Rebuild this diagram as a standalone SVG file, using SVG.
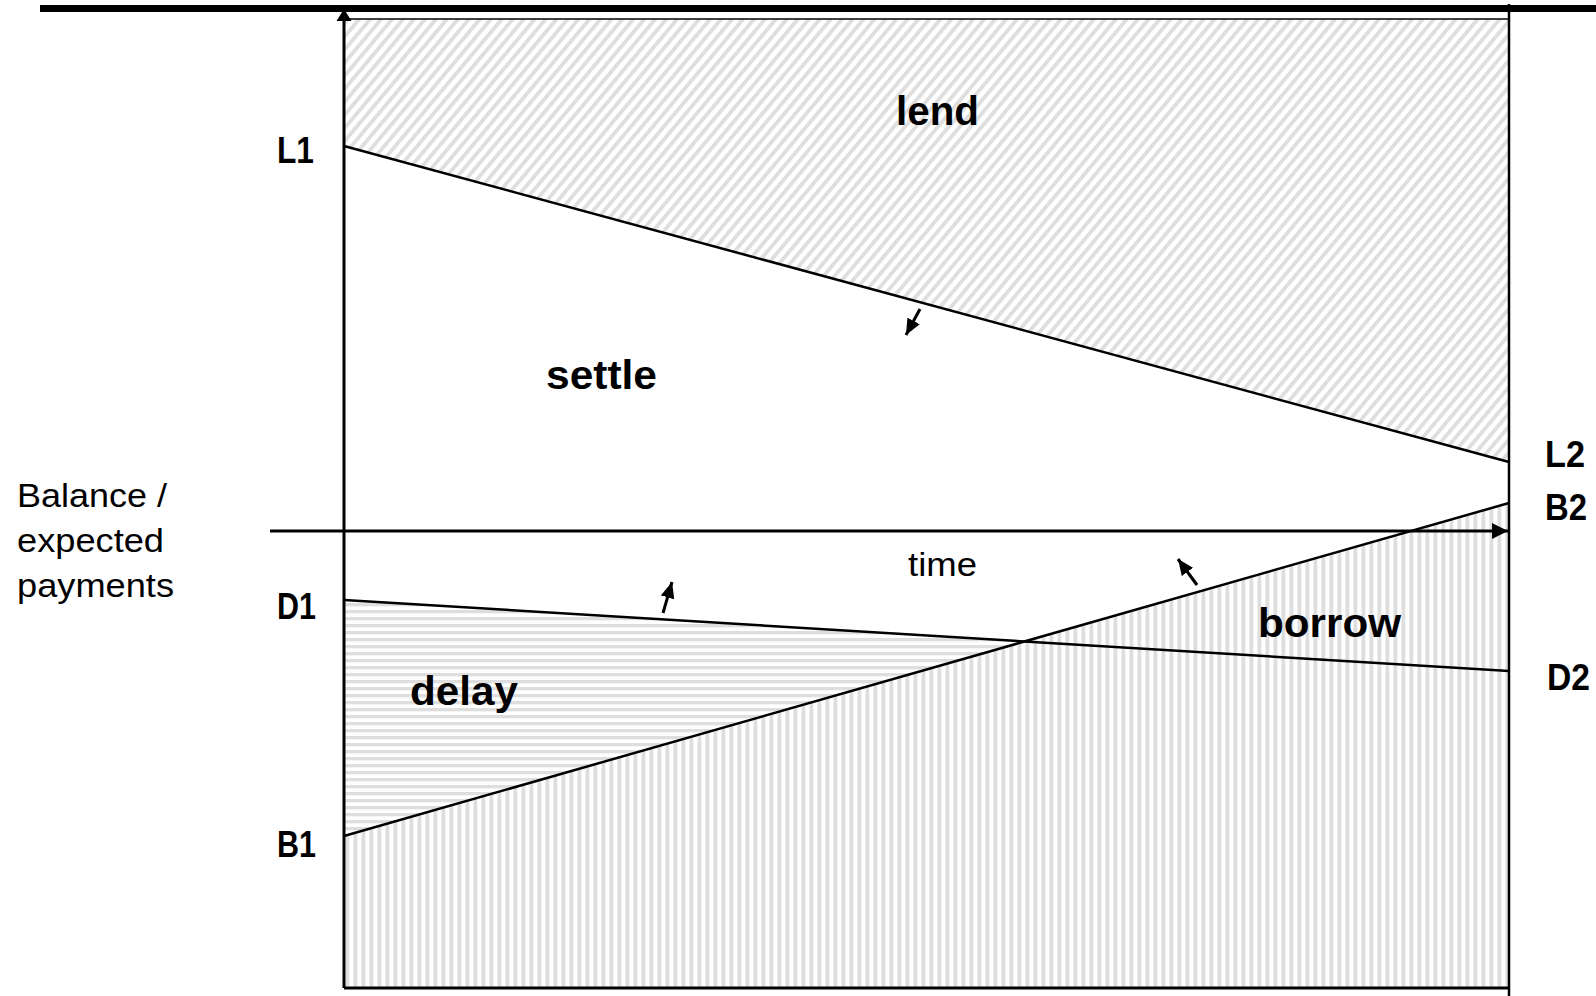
<svg xmlns="http://www.w3.org/2000/svg" width="1596" height="996" viewBox="0 0 1596 996">
<style>
.b{font-family:"Liberation Sans",Arial,sans-serif;font-weight:bold;fill:#000}
.r{font-family:"Liberation Sans",Arial,sans-serif;fill:#000}
.ln{stroke:#000;fill:none}
</style>
<defs>
<pattern id="diag" width="8.4" height="8.4" patternUnits="userSpaceOnUse" patternTransform="rotate(40)">
<rect width="8.4" height="8.4" fill="#fff"/><rect x="0" y="0" width="3.8" height="8.4" fill="#dedede"/>
</pattern>
<pattern id="vert" width="8" height="8" patternUnits="userSpaceOnUse" x="344">
<rect width="8" height="8" fill="#fff"/><rect x="1.5" y="0" width="3.8" height="8" fill="#dedede"/>
</pattern>
<pattern id="horz" width="8" height="7" patternUnits="userSpaceOnUse">
<rect width="8" height="7" fill="#fff"/><rect x="0" y="1" width="8" height="3.3" fill="#dedede"/>
</pattern>
<marker id="ah" markerWidth="16" markerHeight="14" refX="16" refY="7" orient="auto" markerUnits="userSpaceOnUse">
<path d="M0,0 L16,7 L0,14 Z" fill="#000"/>
</marker>
<marker id="ahBig" markerWidth="16" markerHeight="16" refX="16" refY="8" orient="auto" markerUnits="userSpaceOnUse">
<path d="M0,0 L16,8 L0,16 Z" fill="#000"/>
</marker>
</defs>
<rect width="1596" height="996" fill="#fff"/>
<g id="region-lend"><polygon points="344,19 1509,19 1509,462 344,146" fill="url(#diag)"/></g>
<g id="region-borrow"><polygon points="344,836 1509,503 1509,988 344,988" fill="url(#vert)"/></g>
<g id="region-delay"><polygon points="344,600 1028,640.5 344,836" fill="url(#horz)"/></g>
<g id="connectors">
<line class="ln" x1="40" y1="8.5" x2="1596" y2="8.5" stroke-width="7"/>
<line class="ln" x1="344" y1="19" x2="1509" y2="19" stroke="#333" stroke-width="1.5"/>
<line class="ln" x1="344" y1="988" x2="344" y2="20" stroke-width="3"/>
<polygon points="344,9 336.5,21 351.5,21" fill="#000"/>
<line class="ln" x1="1509" y1="4" x2="1509" y2="996" stroke-width="2.5"/>
<line class="ln" x1="344" y1="988" x2="1509" y2="988" stroke="#111" stroke-width="3"/>
<line class="ln" x1="270" y1="531" x2="1508" y2="531" stroke-width="3" marker-end="url(#ahBig)"/>
<line id="line-L" class="ln" x1="344" y1="146" x2="1509" y2="462" stroke-width="2.5"/>
<line id="line-B" class="ln" x1="344" y1="836" x2="1509" y2="503" stroke-width="2.5"/>
<line id="line-D" class="ln" x1="344" y1="600" x2="1509" y2="671" stroke-width="2.5"/>
<line class="ln" x1="920" y1="309" x2="906" y2="335" stroke-width="3" marker-end="url(#ah)"/>
<line class="ln" x1="663" y1="613" x2="672" y2="582" stroke-width="3" marker-end="url(#ah)"/>
<line class="ln" x1="1197" y1="585" x2="1178" y2="559" stroke-width="3" marker-end="url(#ah)"/>
</g>
<g id="labels">
<text class="b" x="896" y="125" font-size="41" textLength="83" lengthAdjust="spacingAndGlyphs">lend</text>
<text class="b" x="546" y="389" font-size="41" textLength="111" lengthAdjust="spacingAndGlyphs">settle</text>
<text class="b" x="410" y="705" font-size="41" textLength="108" lengthAdjust="spacingAndGlyphs">delay</text>
<text class="b" x="1258" y="637" font-size="41" textLength="143" lengthAdjust="spacingAndGlyphs">borrow</text>
<text class="r" x="908" y="576" font-size="34" textLength="69" lengthAdjust="spacingAndGlyphs">time</text>
<text class="b" x="277" y="163" font-size="37" textLength="37" lengthAdjust="spacingAndGlyphs">L1</text>
<text class="b" x="277" y="619" font-size="37" textLength="39" lengthAdjust="spacingAndGlyphs">D1</text>
<text class="b" x="277" y="857" font-size="37" textLength="39" lengthAdjust="spacingAndGlyphs">B1</text>
<text class="b" x="1545" y="467" font-size="37" textLength="40" lengthAdjust="spacingAndGlyphs">L2</text>
<text class="b" x="1545" y="520" font-size="37" textLength="42" lengthAdjust="spacingAndGlyphs">B2</text>
<text class="b" x="1547" y="690" font-size="37" textLength="43" lengthAdjust="spacingAndGlyphs">D2</text>
<text class="r" x="17" y="507" font-size="33" textLength="150" lengthAdjust="spacingAndGlyphs">Balance /</text>
<text class="r" x="17" y="552" font-size="33" textLength="147" lengthAdjust="spacingAndGlyphs">expected</text>
<text class="r" x="17" y="597" font-size="33" textLength="157" lengthAdjust="spacingAndGlyphs">payments</text>
</g>
</svg>
